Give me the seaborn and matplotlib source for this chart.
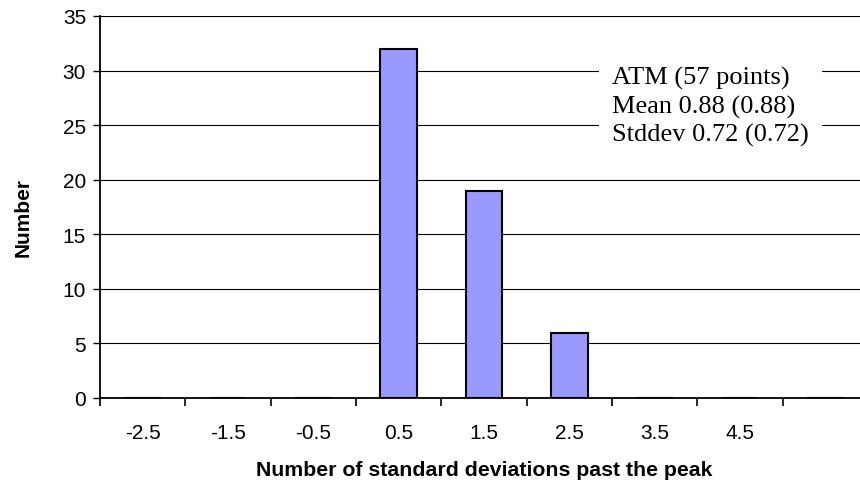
import numpy as np
import pandas as pd
import seaborn as sns
import matplotlib.pyplot as plt

# dane
kategorie = ['-2.5', '-1.5', '-0.5', '0.5', '1.5', '2.5', '3.5', '4.5', '']
liczby = [0, 0, 0, 32, 19, 6, 0, 0, 0]
opis = ['ATM (57 points)', 'Mean 0.88 (0.88)', 'Stddev 0.72 (0.72)']

df = pd.DataFrame({'kat': kategorie, 'n': liczby})

sns.set_theme(style="white")
plt.rcParams['font.family'] = ['Liberation Sans', 'DejaVu Sans']
plt.rcParams['text.color'] = 'black'
plt.rcParams['xtick.color'] = 'black'
plt.rcParams['ytick.color'] = 'black'
plt.rcParams['axes.labelcolor'] = 'black'

fig = plt.figure(figsize=(8.6, 4.89), dpi=100)
# os wychodzi poza prawa krawedz obrazka, jak w oryginale
ax = fig.add_axes([100 / 860, 1 - 399 / 489, 768 / 860, 382 / 489])

sns.barplot(data=df, x='kat', y='n', order=kategorie, color='#9999FF',
            width=0.43, edgecolor='black', linewidth=1.5, saturation=1, ax=ax, zorder=3)

ax.set_xlim(-0.5, 8.5)
ax.set_ylim(0, 35)
ax.set_yticks(range(0, 36, 5))
ax.yaxis.grid(True, color='black', linewidth=0.8, zorder=0)
ax.set_axisbelow(True)

ax.set_xticks(range(len(kategorie)))
ax.set_xticklabels(kategorie)
ax.set_xticks(np.arange(-0.5, 9.0, 1.0), minor=True)
ax.tick_params(axis='x', which='major', length=0, pad=18, labelsize=15)
ax.tick_params(axis='x', which='minor', length=6, width=1.2, color='black', direction='out', bottom=True)
ax.tick_params(axis='y', length=5, width=1, color='black', direction='out', left=True, labelsize=15, pad=5)

for s in ['top', 'right']:
    ax.spines[s].set_visible(False)
for s in ['left', 'bottom']:
    ax.spines[s].set_color('black')
    ax.spines[s].set_linewidth(1.3)
    ax.spines[s].set_zorder(4)

ax.set_xlabel('Number of standard deviations past the peak', fontsize=15.3, fontweight='bold', labelpad=13)
ax.set_ylabel('Number', fontsize=15, fontweight='bold')
ax.yaxis.set_label_coords(-0.088, 0.476)

ax.text(612, 489 - 107, '\n'.join(opis), transform=None, family=['Liberation Serif'],
        fontsize=19, va='center', ha='left', linespacing=1.33,
        bbox=dict(boxstyle='square,pad=0.5', facecolor='white', edgecolor='none'), zorder=5)

fig.savefig('out.png', dpi=100)
